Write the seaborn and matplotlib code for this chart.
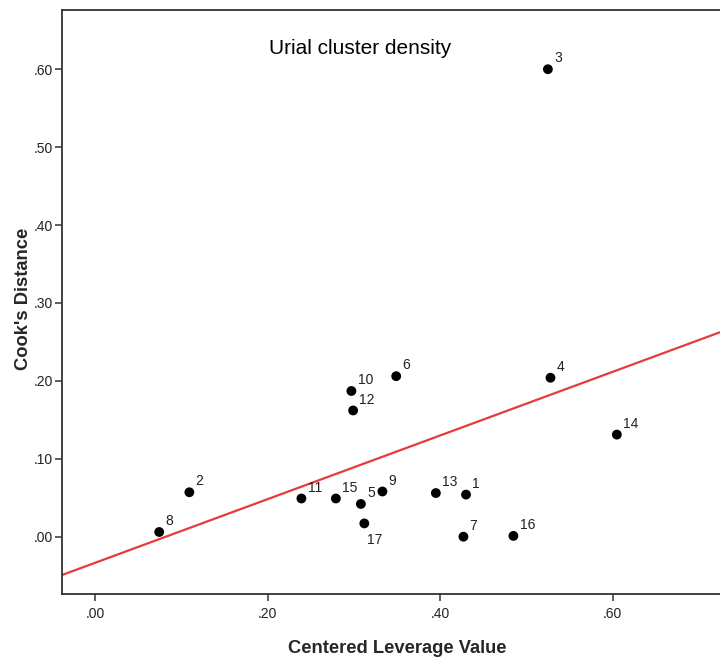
import matplotlib
matplotlib.use("Agg")
import matplotlib.pyplot as plt
from matplotlib.ticker import FuncFormatter
import numpy as np
import pandas as pd
import seaborn as sns

# Case numbers with their centered leverage and Cook's distance
case_ids = [1, 2, 3, 4, 5, 6, 7, 8, 9, 10, 11, 12, 13, 14, 15, 16, 17]
leverage = [0.430, 0.109, 0.525, 0.528, 0.308, 0.349, 0.427, 0.074, 0.333,
            0.297, 0.239, 0.299, 0.395, 0.605, 0.279, 0.485, 0.312]
cooks_d = [0.054, 0.057, 0.600, 0.204, 0.042, 0.206, 0.000, 0.006, 0.058,
           0.187, 0.049, 0.162, 0.056, 0.131, 0.049, 0.001, 0.017]

x_ticks = [0.0, 0.2, 0.4, 0.6]
y_ticks = [0.0, 0.1, 0.2, 0.3, 0.4, 0.5, 0.6]

df = pd.DataFrame({"case": case_ids, "lev": leverage, "cook": cooks_d})

sns.set_style("ticks")
plt.rcParams["font.family"] = ["Liberation Sans", "DejaVu Sans"]

fig = plt.figure(figsize=(7.2, 6.62), dpi=100)
ax = fig.add_axes([0.0861, 0.1027, 0.9139, 0.8822])
ax.set_xlim(-0.0388, 0.7247)
ax.set_ylim(-0.0736, 0.676)

sns.regplot(data=df, x="lev", y="cook", ax=ax, ci=None, truncate=False,
            scatter_kws=dict(s=50, color="black", alpha=1, edgecolor="none",
                             zorder=3),
            line_kws=dict(color="#e8393c", lw=1.6, zorder=2))

# Case labels; case 17 sits below its point
for cid, xv, yv in zip(case_ids, leverage, cooks_d):
    if cid == 17:
        off = (2, -14.5)
    else:
        off = (4.5, 5.0)
    ax.annotate(str(cid), (xv, yv), xytext=off, textcoords="offset points",
                ha="left", va="baseline", fontsize=10, color="#222222")

ax.text(0.453, 0.934, "Urial cluster density", transform=ax.transAxes,
        ha="center", va="center", fontsize=15, color="black")

ax.set_xticks(x_ticks)
ax.set_yticks(y_ticks)
fmt = FuncFormatter(lambda v, p: f"{v:.2f}".lstrip("0"))
ax.xaxis.set_major_formatter(fmt)
ax.yaxis.set_major_formatter(fmt)
ax.tick_params(axis="both", direction="out", length=5, width=1.1,
               color="#333333", labelsize=10, labelcolor="#222222")
ax.tick_params(axis="x", pad=4.5)
ax.tick_params(axis="y", pad=1.5)

ax.set_xlabel("Centered Leverage Value", fontsize=13.2, fontweight="bold")
ax.set_ylabel("Cook's Distance", fontsize=13.2, fontweight="bold")
ax.xaxis.set_label_coords(0.509, -0.079)
ax.yaxis.set_label_coords(-0.046, 0.505)

for side in ["left", "bottom", "top"]:
    ax.spines[side].set_visible(True)
    ax.spines[side].set_color("#333333")
    ax.spines[side].set_linewidth(1.3)
ax.spines["right"].set_visible(False)

fig.savefig("out.png", dpi=100)
